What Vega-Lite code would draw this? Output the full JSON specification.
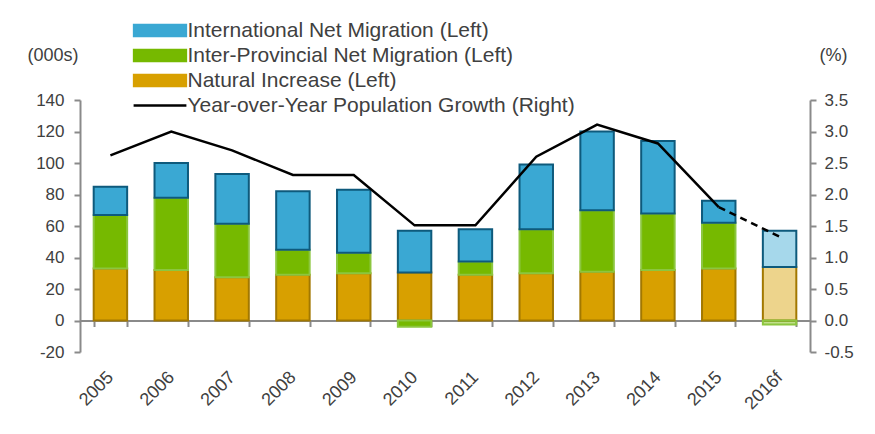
{
  "$schema": "https://vega.github.io/schema/vega-lite/v6.json",
  "width": 730,
  "height": 252,
  "autosize": {"type": "none"},
  "padding": {"left": 80, "top": 100, "right": 65, "bottom": 82},
  "background": "white",
  "config": {
    "view": {"stroke": null},
    "font": "Liberation Sans",
    "axis": {
      "domainColor": "#8a8a8a", "domainWidth": 2,
      "tickColor": "#8a8a8a", "tickWidth": 2, "tickSize": 6,
      "labelColor": "#404040", "labelFontSize": 17, "labelFont": "Liberation Sans",
      "grid": false,
      "titleFont": "Liberation Sans", "titleFontSize": 18, "titleFontWeight": "normal", "titleColor": "#404040"
    },
    "legend": {
      "labelFont": "Liberation Sans", "labelFontSize": 21, "labelColor": "#404040", "labelLimit": 600,
      "padding": 0, "rowPadding": 3
    }
  },
  "datasets": {
    "bars": [
      {"year": "2005", "series": "Natural Increase (Left)", "ord": 1, "value": 33},
      {"year": "2005", "series": "Inter-Provincial Net Migration (Left)", "ord": 2, "value": 34},
      {"year": "2005", "series": "International Net Migration (Left)", "ord": 3, "value": 18},
      {"year": "2006", "series": "Natural Increase (Left)", "ord": 1, "value": 32},
      {"year": "2006", "series": "Inter-Provincial Net Migration (Left)", "ord": 2, "value": 46},
      {"year": "2006", "series": "International Net Migration (Left)", "ord": 3, "value": 22},
      {"year": "2007", "series": "Natural Increase (Left)", "ord": 1, "value": 27.5},
      {"year": "2007", "series": "Inter-Provincial Net Migration (Left)", "ord": 2, "value": 34},
      {"year": "2007", "series": "International Net Migration (Left)", "ord": 3, "value": 31.5},
      {"year": "2008", "series": "Natural Increase (Left)", "ord": 1, "value": 29},
      {"year": "2008", "series": "Inter-Provincial Net Migration (Left)", "ord": 2, "value": 16},
      {"year": "2008", "series": "International Net Migration (Left)", "ord": 3, "value": 37},
      {"year": "2009", "series": "Natural Increase (Left)", "ord": 1, "value": 30},
      {"year": "2009", "series": "Inter-Provincial Net Migration (Left)", "ord": 2, "value": 13},
      {"year": "2009", "series": "International Net Migration (Left)", "ord": 3, "value": 40},
      {"year": "2010", "series": "Natural Increase (Left)", "ord": 1, "value": 30.5},
      {"year": "2010", "series": "Inter-Provincial Net Migration (Left)", "ord": 2, "value": -4},
      {"year": "2010", "series": "International Net Migration (Left)", "ord": 3, "value": 26.5},
      {"year": "2011", "series": "Natural Increase (Left)", "ord": 1, "value": 29},
      {"year": "2011", "series": "Inter-Provincial Net Migration (Left)", "ord": 2, "value": 8.5},
      {"year": "2011", "series": "International Net Migration (Left)", "ord": 3, "value": 20.5},
      {"year": "2012", "series": "Natural Increase (Left)", "ord": 1, "value": 30},
      {"year": "2012", "series": "Inter-Provincial Net Migration (Left)", "ord": 2, "value": 28},
      {"year": "2012", "series": "International Net Migration (Left)", "ord": 3, "value": 41},
      {"year": "2013", "series": "Natural Increase (Left)", "ord": 1, "value": 31},
      {"year": "2013", "series": "Inter-Provincial Net Migration (Left)", "ord": 2, "value": 39},
      {"year": "2013", "series": "International Net Migration (Left)", "ord": 3, "value": 50},
      {"year": "2014", "series": "Natural Increase (Left)", "ord": 1, "value": 32},
      {"year": "2014", "series": "Inter-Provincial Net Migration (Left)", "ord": 2, "value": 36},
      {"year": "2014", "series": "International Net Migration (Left)", "ord": 3, "value": 46},
      {"year": "2015", "series": "Natural Increase (Left)", "ord": 1, "value": 33},
      {"year": "2015", "series": "Inter-Provincial Net Migration (Left)", "ord": 2, "value": 29},
      {"year": "2015", "series": "International Net Migration (Left)", "ord": 3, "value": 14},
      {"year": "2016f", "series": "Natural Increase (Left)", "ord": 1, "value": 34},
      {"year": "2016f", "series": "Inter-Provincial Net Migration (Left)", "ord": 2, "value": -2.5},
      {"year": "2016f", "series": "International Net Migration (Left)", "ord": 3, "value": 23}
    ],
    "growth": [
      {"year": "2005", "growth": 2.62},
      {"year": "2006", "growth": 3.0},
      {"year": "2007", "growth": 2.7},
      {"year": "2008", "growth": 2.31},
      {"year": "2009", "growth": 2.31},
      {"year": "2010", "growth": 1.51},
      {"year": "2011", "growth": 1.51},
      {"year": "2012", "growth": 2.6},
      {"year": "2013", "growth": 3.11},
      {"year": "2014", "growth": 2.81},
      {"year": "2015", "growth": 1.8},
      {"year": "2016f", "growth": 1.33}
    ]
  },
  "encoding": {
    "x": {
      "field": "year", "type": "ordinal",
      "scale": {"paddingInner": 0.45, "paddingOuter": 0.225},
      "axis": {
        "title": null, "offset": -31.5, "labelAngle": -45, "labelAlign": "right",
        "labelBaseline": "middle", "labelPadding": 48, "tickBand": "extent", "labelFontSize": 18
      }
    }
  },
  "layer": [
    {
      "data": {"name": "bars"},
      "encoding": {
        "y": {
          "field": "value", "type": "quantitative", "stack": "zero",
          "scale": {"domain": [-20, 140], "nice": false, "zero": false},
          "axis": {
            "values": [-20, 0, 20, 40, 60, 80, 100, 120, 140], "labelPadding": 10,
            "labelExpr": "replace(datum.label, '\u2212', '-')",
            "title": "(000s)", "titleAngle": 0, "titleX": -27.5, "titleY": -45,
            "titleAlign": "center", "titleBaseline": "middle"
          }
        },
        "color": {
          "field": "series", "type": "nominal",
          "scale": {
            "domain": ["International Net Migration (Left)", "Inter-Provincial Net Migration (Left)", "Natural Increase (Left)", "Year-over-Year Population Growth (Right)"],
            "range": ["#3AA8D3", "#76B900", "#D8A000", "#000000"]
          },
          "legend": {
            "title": null, "orient": "none", "legendX": 50, "legendY": -80,
            "symbolSize": 144, "symbolOffset": 19.5, "labelOffset": 17,
            "encode": {
              "symbols": {
                "update": {
                  "shape": {"signal": "datum.value === 'Year-over-Year Population Growth (Right)' ? 'M-4.4,0H4.4' : 'M-4.4,-1H4.4V1H-4.4Z'"},
                  "fill": {"signal": "datum.value === 'Year-over-Year Population Growth (Right)' ? 'transparent' : datum.value === 'International Net Migration (Left)' ? '#3AA8D3' : datum.value === 'Natural Increase (Left)' ? '#D8A000' : '#76B900'"},
                  "stroke": {"signal": "datum.value === 'Year-over-Year Population Growth (Right)' ? '#000000' : datum.value === 'International Net Migration (Left)' ? '#0E5A7C' : datum.value === 'Natural Increase (Left)' ? '#A27800' : '#76B900'"},
                  "strokeWidth": {"signal": "datum.value === 'Year-over-Year Population Growth (Right)' ? 2.5 : 1.5"},
                  "opacity": {"value": 1},
                  "fillOpacity": {"value": 1}
                }
              }
            }
          }
        },
        "stroke": {
          "field": "series", "type": "nominal",
          "scale": {
            "domain": ["International Net Migration (Left)", "Inter-Provincial Net Migration (Left)", "Natural Increase (Left)"],
            "range": ["#0E5A7C", "#8CC63F", "#A27800"]
          },
          "legend": null
        },
        "order": {"field": "ord", "type": "quantitative", "sort": "ascending"}
      },
      "layer": [
        {
          "transform": [{"filter": "datum.year !== '2016f'"}],
          "mark": {"type": "bar", "strokeWidth": 2}
        },
        {
          "transform": [{"filter": "datum.year === '2016f'"}],
          "mark": {"type": "bar", "strokeWidth": 2, "fillOpacity": 0.45}
        }
      ]
    },
    {
      "data": {"name": "growth"},
      "encoding": {
        "y": {
          "field": "growth", "type": "quantitative",
          "scale": {"domain": [-0.5, 3.5], "nice": false, "zero": false},
          "axis": {
            "orient": "right", "values": [-0.5, 0, 0.5, 1, 1.5, 2, 2.5, 3, 3.5], "format": ".1f",
            "labelExpr": "replace(datum.label, '\u2212', '-')",
            "labelPadding": 8,
            "title": "(%)", "titleAngle": 0, "titleX": 23, "titleY": -45,
            "titleAlign": "center", "titleBaseline": "middle"
          }
        },
        "color": {"datum": "Year-over-Year Population Growth (Right)"}
      },
      "layer": [
        {
          "transform": [{"filter": "datum.year !== '2016f'"}],
          "mark": {"type": "line", "strokeWidth": 2.5}
        },
        {
          "transform": [{"filter": "datum.year === '2015' || datum.year === '2016f'"}],
          "mark": {"type": "line", "strokeWidth": 2.5, "strokeDash": [7, 5]}
        }
      ]
    }
  ],
  "resolve": {"scale": {"y": "independent"}}
}
